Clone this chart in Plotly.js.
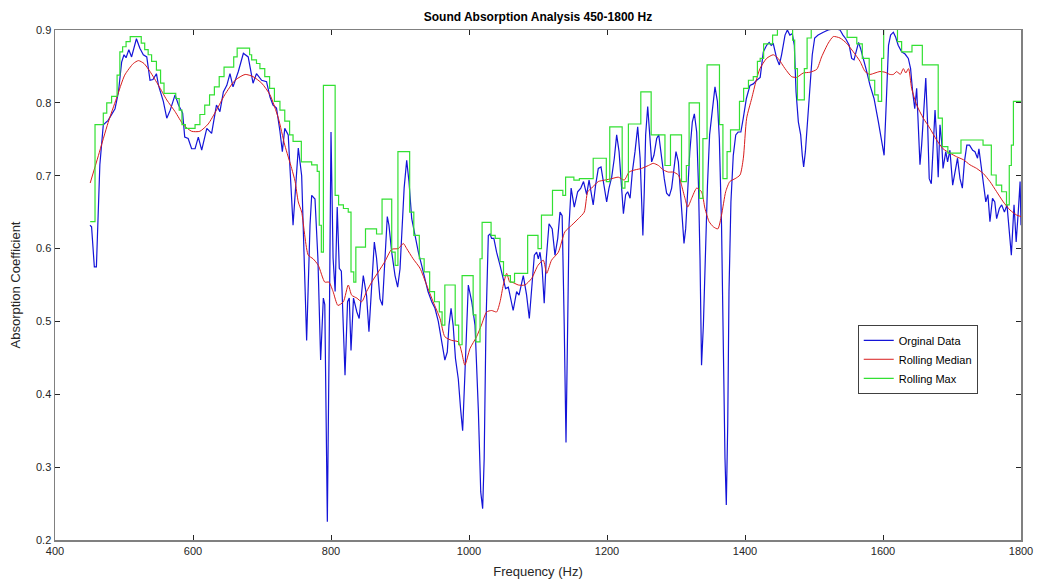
<!DOCTYPE html>
<html>
<head>
<meta charset="utf-8">
<script src="https://cdn.plot.ly/plotly-3.0.1.min.js"></script>
<style>html,body{margin:0;padding:0;background:#fff;}#chart{width:1040px;height:582px;}</style>
</head>
<body>
<div id="chart"></div>
<script>
// Original data (frequency Hz, absorption coefficient)
var origFreq = [450.7,453,457,460,465,470,477,487,492,496.6,500,503,507,511,518,523,528,533,537.7,542,547,550,557,562,567,574,579,585,588,593,598,603,607.7,612.6,620,627,634,639,644,649,653.6,658,665.7,673,680,687,692,699.5,706.6,711.6,716,721,726,729.5,733,738,745,750,752.6,757.5,764.7,769.6,772,776.8,781,785,788.9,791,794.7,797.6,800,803,806,809,812,815,820.3,824,826.5,829,832.6,837.5,840.8,846.8,851.6,855,859,862.8,866,871,874.5,878,881.6,884,888,892.8,896.6,900,903.4,906,909.7,913,917,922,926.6,931.4,936,940.6,946,950.7,955.5,960,965,968.5,971,974,977,980.4,984.5,987.8,990.8,994,996.6,999,1004,1008.7,1013.5,1017,1019.8,1022,1024.6,1028,1030.5,1032.8,1036,1040,1045,1049.7,1053,1057,1064,1069,1072.5,1078.7,1083.5,1087.4,1090.8,1094.7,1098,1100.5,1102.9,1106,1109,1112,1116,1120.6,1124.6,1128.6,1131.9,1135,1138,1140.6,1143,1145,1148,1152.6,1157.5,1162,1166,1170.5,1174,1177,1180,1183.5,1187.4,1191.3,1194.6,1199.5,1202.9,1206.8,1210.6,1214,1217.5,1220.4,1223.8,1227,1230,1233.5,1236.7,1240.6,1244.5,1248,1250.2,1252,1254,1256,1259,1262,1264.7,1268,1272,1275,1279,1283,1286.4,1290.3,1293.7,1297,1300,1303.4,1307.3,1309.7,1311.6,1314,1316.9,1320,1323.7,1326.6,1330,1332.6,1334.8,1337,1339.7,1342,1345.6,1348.7,1352.6,1356.5,1360,1362.8,1366,1368.6,1371,1372.9,1375,1376.8,1379.6,1383,1386.6,1390,1394,1397.5,1402,1407.2,1412,1417,1422,1426.5,1431.3,1435,1438,1441,1445.9,1449.8,1453,1458,1461.4,1465,1468.6,1471.5,1474,1477.3,1480.7,1483,1485,1487.5,1490.4,1494,1497.5,1501,1506,1513.5,1520.7,1530,1537.7,1542,1546,1551,1554.6,1558,1561,1564.6,1567.7,1571.6,1576.4,1581.2,1587,1593.3,1598,1601.6,1604.3,1608,1611,1615,1618.4,1622,1627,1632,1636.7,1640,1643,1646,1648.8,1651,1653.6,1656,1659.4,1662,1664.7,1667,1670,1673,1675.4,1678,1680,1682.6,1685,1687,1691,1693.6,1697,1701,1704,1708,1711.6,1715,1718,1721.5,1725.4,1730,1733.3,1737,1739,1742,1745.4,1749,1752,1755,1758.7,1762,1764.7,1768.6,1772,1776,1779.7,1782.6,1786,1789.9,1793,1796,1798.7,1800];
var origVal = [0.632,0.63,0.575,0.575,0.715,0.77,0.776,0.792,0.815,0.856,0.866,0.862,0.873,0.863,0.888,0.875,0.866,0.863,0.831,0.832,0.84,0.824,0.802,0.779,0.79,0.811,0.797,0.786,0.753,0.751,0.737,0.737,0.753,0.735,0.765,0.758,0.797,0.788,0.815,0.824,0.84,0.822,0.843,0.868,0.863,0.827,0.84,0.831,0.829,0.808,0.797,0.793,0.761,0.733,0.765,0.756,0.632,0.71,0.738,0.70,0.474,0.632,0.673,0.668,0.587,0.447,0.532,0.523,0.225,0.495,0.76,0.587,0.541,0.657,0.573,0.569,0.426,0.527,0.532,0.46,0.532,0.513,0.504,0.563,0.535,0.486,0.559,0.609,0.587,0.531,0.522,0.586,0.644,0.632,0.595,0.563,0.547,0.572,0.632,0.683,0.721,0.692,0.641,0.614,0.595,0.577,0.559,0.541,0.527,0.518,0.5,0.472,0.447,0.458,0.495,0.518,0.495,0.449,0.421,0.38,0.35,0.426,0.495,0.55,0.527,0.495,0.38,0.266,0.243,0.312,0.495,0.618,0.62,0.614,0.614,0.595,0.577,0.559,0.545,0.547,0.515,0.541,0.536,0.563,0.536,0.504,0.55,0.591,0.595,0.586,0.595,0.573,0.525,0.586,0.634,0.627,0.591,0.614,0.65,0.645,0.495,0.334,0.495,0.632,0.683,0.657,0.678,0.683,0.692,0.674,0.694,0.674,0.66,0.687,0.71,0.712,0.692,0.664,0.683,0.698,0.724,0.756,0.733,0.692,0.648,0.674,0.678,0.669,0.705,0.733,0.767,0.724,0.65,0.618,0.678,0.756,0.795,0.76,0.719,0.728,0.751,0.756,0.724,0.696,0.676,0.672,0.683,0.71,0.733,0.719,0.664,0.623,0.607,0.627,0.683,0.733,0.774,0.785,0.76,0.687,0.586,0.44,0.495,0.586,0.687,0.756,0.792,0.822,0.802,0.751,0.632,0.449,0.312,0.248,0.36,0.541,0.664,0.728,0.756,0.76,0.76,0.779,0.806,0.824,0.826,0.831,0.835,0.87,0.879,0.883,0.879,0.881,0.861,0.852,0.866,0.893,0.9,0.893,0.895,0.879,0.815,0.774,0.756,0.728,0.712,0.733,0.77,0.815,0.866,0.889,0.893,0.897,0.9,0.902,0.9,0.893,0.888,0.879,0.861,0.859,0.87,0.883,0.874,0.861,0.843,0.824,0.806,0.774,0.751,0.728,0.79,0.879,0.893,0.897,0.89,0.879,0.87,0.867,0.861,0.847,0.815,0.792,0.82,0.77,0.715,0.742,0.792,0.834,0.77,0.696,0.689,0.742,0.79,0.747,0.698,0.77,0.747,0.71,0.733,0.719,0.735,0.687,0.705,0.724,0.696,0.683,0.719,0.742,0.742,0.735,0.733,0.724,0.737,0.715,0.687,0.664,0.674,0.637,0.669,0.664,0.641,0.655,0.66,0.65,0.66,0.623,0.591,0.66,0.609,0.65,0.692,0.632];

// Rolling median
var medFreq = [451,463,477,489,501,513.5,521,529,537.7,550,562,574,586,598,610,622,634,646,661,675.6,687,699.6,711.6,723.7,733,743,748,752.6,757.5,767,774,781.6,791,797,803,810,817.9,825,830,837.5,844.5,851.6,859,868.6,878,888,897.6,904.8,909.7,919,929,938.6,948,958,965,974.8,984.5,989.3,994,1001.5,1011,1018,1025.6,1032.8,1040,1045,1049.7,1054.6,1059,1062,1071.6,1081,1090.8,1100,1107.7,1112.6,1119.6,1129.5,1139,1148.8,1158.5,1167,1172,1177.7,1187.4,1197,1206.8,1216.4,1225,1232,1240.6,1250,1260,1267,1274.6,1281.6,1289,1296,1303.4,1308,1313,1317,1322.7,1330,1337,1342,1348,1354,1360.6,1366,1372,1378,1385.7,1392.8,1397.6,1402.4,1409.7,1416,1421.7,1431.3,1441,1448,1458,1467.6,1474.9,1484.5,1494,1504,1511,1520.7,1528,1537.7,1547,1557,1566.7,1574,1581,1588.4,1595.6,1603,1610,1615,1620,1625,1629.5,1633,1637,1641.5,1648.8,1658.4,1668,1677.8,1687,1697,1706.7,1716.4,1726,1735.7,1745.4,1755,1764.7,1774.4,1784,1793.7,1800];
var medVal = [0.69,0.728,0.773,0.806,0.838,0.854,0.858,0.854,0.843,0.824,0.804,0.788,0.77,0.761,0.761,0.771,0.79,0.811,0.831,0.839,0.836,0.827,0.811,0.779,0.742,0.71,0.692,0.664,0.65,0.591,0.586,0.577,0.554,0.554,0.541,0.522,0.527,0.55,0.536,0.532,0.527,0.541,0.554,0.568,0.582,0.599,0.6,0.607,0.6,0.586,0.573,0.55,0.527,0.504,0.479,0.474,0.472,0.458,0.44,0.463,0.479,0.495,0.513,0.515,0.513,0.527,0.55,0.566,0.554,0.554,0.55,0.55,0.559,0.577,0.584,0.566,0.584,0.595,0.623,0.632,0.641,0.65,0.678,0.683,0.692,0.694,0.696,0.698,0.694,0.705,0.708,0.71,0.714,0.717,0.714,0.708,0.705,0.705,0.701,0.687,0.669,0.657,0.669,0.683,0.678,0.655,0.637,0.63,0.627,0.646,0.678,0.692,0.696,0.701,0.724,0.779,0.806,0.83,0.847,0.861,0.866,0.861,0.847,0.836,0.835,0.841,0.842,0.846,0.863,0.882,0.891,0.889,0.882,0.87,0.857,0.843,0.839,0.841,0.843,0.842,0.839,0.839,0.843,0.839,0.847,0.841,0.847,0.82,0.797,0.779,0.765,0.749,0.737,0.731,0.726,0.722,0.715,0.71,0.703,0.692,0.678,0.664,0.653,0.646,0.644];

// Rolling max (step levels starting at each frequency)
var maxFreq = [451,458,470,475,482,490,494,498,503,509,525,530,535,540,547,553,558,575,580,584,589,603,610,617,624,631,638,645,659,664,682,685,692,697,704,711,718,726,733,740,745,757,772,780,783,786,789,806,811,818,825,829,833,836,850,866,874,888,893,897,914,920,928,935,943,950,957,961,965,980,985,990,1006,1010,1016,1019,1032,1038,1045,1050,1060,1066,1085,1100,1105,1121,1136,1140,1152,1160,1180,1199,1204,1222,1226,1231,1249,1264,1284,1292,1308,1315,1319,1334,1339,1345,1363,1368,1374,1379,1392,1398,1405,1412,1418,1422,1427,1440,1447,1469,1472,1476,1486,1490,1496,1548,1562,1570,1580,1588,1593,1598,1601,1621,1627,1642,1657,1680,1686,1694,1713,1745,1757,1764,1772,1779,1783,1786,1789,1800];
var maxVal = [0.637,0.77,0.786,0.8,0.809,0.838,0.87,0.877,0.884,0.891,0.882,0.873,0.866,0.857,0.845,0.827,0.813,0.806,0.79,0.77,0.765,0.77,0.784,0.797,0.811,0.822,0.836,0.849,0.863,0.875,0.866,0.859,0.854,0.847,0.836,0.82,0.802,0.79,0.775,0.756,0.747,0.719,0.715,0.706,0.632,0.595,0.824,0.673,0.66,0.655,0.65,0.568,0.554,0.602,0.627,0.62,0.668,0.595,0.577,0.733,0.65,0.618,0.586,0.568,0.541,0.527,0.513,0.495,0.55,0.495,0.468,0.563,0.509,0.472,0.586,0.636,0.618,0.614,0.582,0.563,0.554,0.566,0.618,0.6,0.646,0.68,0.673,0.698,0.694,0.696,0.724,0.692,0.767,0.683,0.692,0.771,0.815,0.756,0.714,0.756,0.692,0.714,0.8,0.669,0.751,0.852,0.77,0.696,0.733,0.763,0.802,0.82,0.831,0.836,0.857,0.861,0.881,0.893,0.905,0.886,0.847,0.804,0.847,0.889,0.905,0.89,0.881,0.861,0.831,0.811,0.802,0.861,0.905,0.884,0.87,0.879,0.852,0.779,0.74,0.731,0.749,0.742,0.701,0.687,0.678,0.66,0.714,0.742,0.802,0.802];

var xTicks = [400,600,800,1000,1200,1400,1600,1800];
var yTicks = [0.2,0.3,0.4,0.5,0.6,0.7,0.8,0.9];

var FONT = 'Liberation Sans, Arial, sans-serif';
var traces = [
  {x: origFreq, y: origVal, type: 'scatter', mode: 'lines', name: 'Orginal Data',
   line: {color: '#1414d8', width: 1.2}},
  {x: medFreq, y: medVal, type: 'scatter', mode: 'lines', name: 'Rolling Median',
   line: {color: '#d81c1c', width: 1, shape: 'spline', smoothing: 0.6}},
  {x: maxFreq, y: maxVal, type: 'scatter', mode: 'lines', name: 'Rolling Max',
   line: {color: '#33e033', width: 1.2, shape: 'hv'}}
];

var axisCommon = {
  showline: true, mirror: 'ticks', linecolor: '#808080', linewidth: 1.5,
  ticks: 'inside', ticklen: 5, tickcolor: '#262626', tickwidth: 1,
  showgrid: false, zeroline: false,
  tickfont: {family: FONT, size: 11, color: '#262626'}
};

var layout = {
  width: 1040, height: 582,
  margin: {l: 55, r: 19, t: 30, b: 42},
  paper_bgcolor: '#ffffff', plot_bgcolor: '#ffffff',
  title: {text: '<b>Sound Absorption Analysis 450-1800 Hz</b>', font: {family: FONT, size: 12, color: '#000'},
          x: 0.5173, xanchor: 'center', y: 0.971, yanchor: 'middle', yref: 'container'},
  xaxis: Object.assign({}, axisCommon, {
    range: [400, 1800], tickvals: xTicks, ticktext: xTicks.map(String),
    title: {text: 'Frequency (Hz)', font: {family: FONT, size: 13, color: '#262626'}, standoff: 11}
  }),
  yaxis: Object.assign({}, axisCommon, {
    range: [0.2, 0.9], tickvals: yTicks, ticktext: yTicks.map(function(v){return v.toFixed(1);}),
    title: {text: 'Absorption Coefficient', font: {family: FONT, size: 13, color: '#262626'}, standoff: 12}
  }),
  showlegend: true,
  legend: {x: 0.831, y: 0.422, xanchor: 'left', yanchor: 'top',
           bordercolor: '#404040', borderwidth: 1, bgcolor: '#ffffff',
           font: {family: FONT, size: 11, color: '#000'}, tracegroupgap: 0, itemwidth: 30}
};

Plotly.newPlot('chart', traces, layout, {displayModeBar: false, staticPlot: true});
</script>
</body>
</html>
